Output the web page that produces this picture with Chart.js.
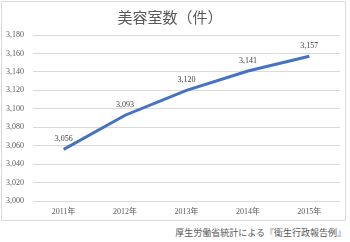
<!DOCTYPE html>
<html>
<head>
<meta charset="utf-8">
<script src="https://cdn.jsdelivr.net/npm/chart.js@4"></script>
<style>
  html, body { margin: 0; padding: 0; background: #fff; }
  #wrap { position: relative; width: 350px; height: 242px; }
  #frame { position: absolute; left: 1px; top: 1px; width: 345px; height: 220px; border: 1px solid #d9d9d9; box-sizing: border-box; }
  #chart { position: absolute; left: 0; top: 0; }
  #note { position: absolute; right: 4px; top: 226px; font: 9px "Noto Sans CJK JP", sans-serif; color: #595959; white-space: nowrap; }
</style>
</head>
<body>
<div id="wrap">
  <div id="frame"></div>
  <canvas id="chart" width="350" height="222"></canvas>
  <div id="note">厚生労働省統計による『衛生行政報告例』</div>
</div>
<script>
// 美容室数 by year
const years = ['2011年', '2012年', '2013年', '2014年', '2015年'];
const salons = [3056, 3093, 3120, 3141, 3157];

const numFont = '"Liberation Serif", "Noto Sans CJK JP", serif';

// value labels above each point
const valueLabels = {
  id: 'valueLabels',
  afterDatasetsDraw(chart) {
    const ctx = chart.ctx;
    const meta = chart.getDatasetMeta(0);
    ctx.save();
    ctx.font = '8px ' + numFont;
    ctx.fillStyle = '#404040';
    ctx.textAlign = 'center';
    ctx.textBaseline = 'middle';
    meta.data.forEach((pt, i) => {
      ctx.fillText(salons[i].toLocaleString('en-US'), pt.x, pt.y - 10);
    });
    ctx.restore();
  }
};

new Chart(document.getElementById('chart').getContext('2d'), {
  type: 'line',
  data: {
    labels: years,
    datasets: [{
      data: salons,
      borderColor: '#4472c4',
      borderWidth: 3,
      pointRadius: 0,
      tension: 0,
      fill: false
    }]
  },
  options: {
    responsive: false,
    animation: false,
    layout: { padding: { left: 0, right: 10, top: 0, bottom: 0 } },
    plugins: {
      legend: { display: false },
      tooltip: { enabled: false },
      title: {
        display: true,
        text: '美容室数（件）',
        color: '#595959',
        font: { family: '"Noto Sans CJK JP", sans-serif', size: 15, weight: 'normal' },
        padding: { top: 8, bottom: 9 }
      }
    },
    scales: {
      x: {
        offset: true,
        grid: { display: false, drawTicks: false, offset: true },
        border: { display: false },
        ticks: { color: '#595959', font: { family: numFont, size: 8 }, padding: 6, maxRotation: 0 },
        afterFit(scale) { scale.height = 21; }
      },
      y: {
        min: 3000,
        max: 3180,
        grid: { color: '#d9d9d9', drawTicks: false },
        border: { display: false },
        ticks: {
          stepSize: 20,
          color: '#595959',
          font: { family: numFont, size: 8 },
          padding: 9,
          callback: v => v.toLocaleString('en-US')
        },
        afterFit(scale) { scale.width = 33; }
      }
    }
  },
  plugins: [valueLabels]
});
</script>
</body>
</html>
